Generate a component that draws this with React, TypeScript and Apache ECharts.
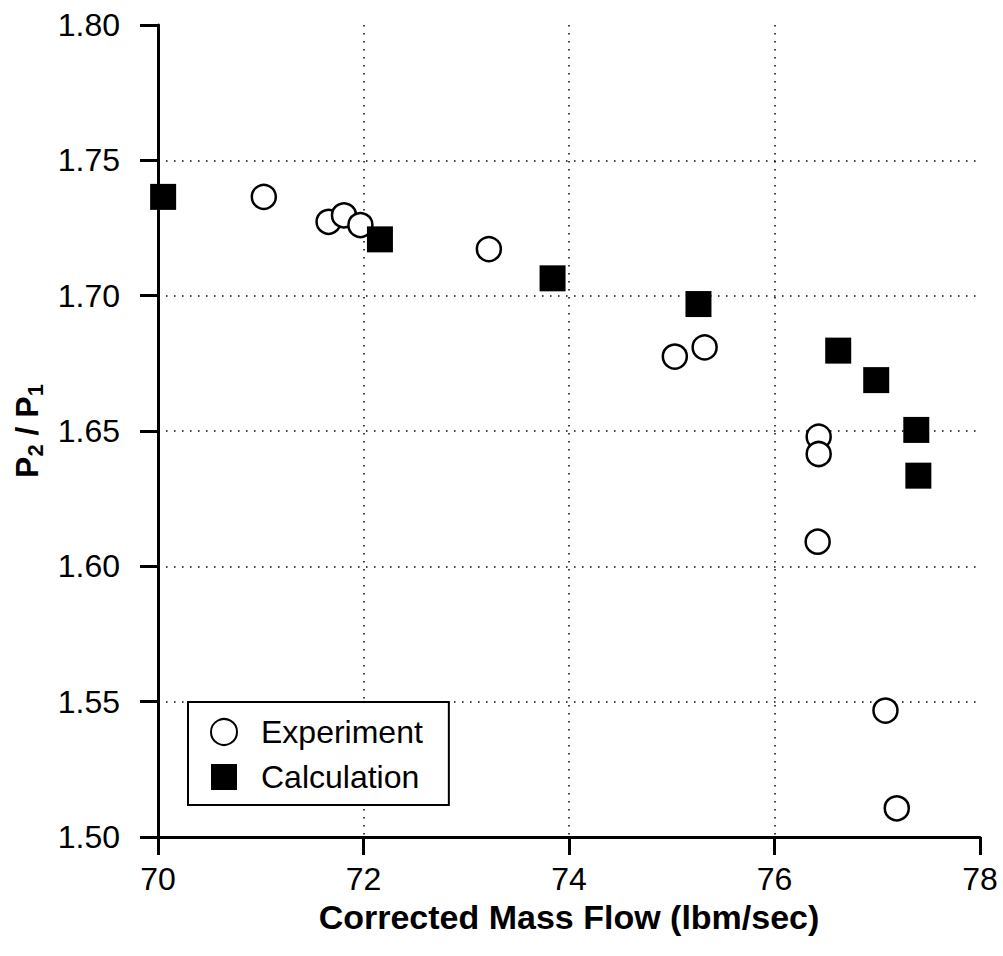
import React, { useEffect, useRef } from "react";
import * as echarts from "echarts";

const xTicks = [70, 72, 74, 76, 78];
const yTicks = [1.5, 1.55, 1.6, 1.65, 1.7, 1.75, 1.8];

const experimentX = [71.03, 71.66, 71.81, 71.97, 73.22, 75.03, 75.32, 76.43, 76.43, 76.42, 77.08, 77.19];
const experimentY = [1.7365, 1.7273, 1.7297, 1.7261, 1.7172, 1.6775, 1.6809, 1.6479, 1.6415, 1.6091, 1.5467, 1.5106];

const calculationX = [70.05, 72.16, 73.84, 75.26, 76.62, 76.99, 77.38, 77.4];
const calculationY = [1.7365, 1.7208, 1.7064, 1.6969, 1.6797, 1.6688, 1.6504, 1.6335];

const FONT = "'Liberation Sans', Arial, Helvetica, sans-serif";

export default function App() {
  const ref = useRef<HTMLDivElement>(null);
  useEffect(() => {
    if (!ref.current) return;
    const chart = echarts.init(ref.current, undefined, { renderer: "svg" });
    const expData = experimentX.map((x, i) => [x, experimentY[i]]);
    const calcData = calculationX.map((x, i) => [x, calculationY[i]]);
    chart.setOption({
      animation: false,
      backgroundColor: "#ffffff",
      textStyle: { fontFamily: FONT },
      grid: { left: 158, right: 23, top: 25, bottom: 119, containLabel: false },
      legend: {
        orient: "vertical",
        left: 188,
        top: 702,
        padding: [14, 26, 12, 22],
        itemGap: 13,
        itemWidth: 26,
        itemHeight: 26,
        backgroundColor: "#ffffff",
        borderColor: "#000000",
        borderWidth: 2,
        textStyle: {
          fontFamily: FONT,
          fontSize: 32,
          lineHeight: 32,
          color: "#000000",
          padding: [0, 0, 0, 19],
        },
        data: ["Experiment", "Calculation"],
      },
      xAxis: {
        type: "value",
        min: xTicks[0],
        max: xTicks[xTicks.length - 1],
        interval: 2,
        name: "Corrected Mass Flow (lbm/sec)",
        nameLocation: "middle",
        nameGap: 57,
        nameTextStyle: { fontFamily: FONT, fontSize: 34, fontWeight: "bold", color: "#000" },
        axisLine: { show: true, lineStyle: { color: "#000", width: 3 } },
        axisTick: { show: true, length: 18, lineStyle: { color: "#000", width: 3 } },
        axisLabel: {
          fontFamily: FONT,
          fontSize: 32,
          color: "#000",
          margin: 26,
          formatter: (v: number) => String(Math.round(v)),
        },
        splitLine: {
          show: true,
          showMinLine: false,
          showMaxLine: false,
          lineStyle: { color: "#000", width: 1.5, type: [1.5, 6.5] },
        },
      },
      yAxis: {
        type: "value",
        min: yTicks[0],
        max: yTicks[yTicks.length - 1],
        interval: 0.05,
        name: "{p|P}{s|2}{p| / P}{s|1}",
        nameLocation: "middle",
        nameGap: 112,
        nameRotate: 90,
        nameTextStyle: {
          fontFamily: FONT,
          color: "#000",
          rich: {
            p: { fontFamily: FONT, fontSize: 32, fontWeight: "bold", color: "#000" },
            s: { fontFamily: FONT, fontSize: 22, fontWeight: "bold", color: "#000", padding: [16, 0, 0, 0] },
          },
        },
        axisLine: { show: true, lineStyle: { color: "#000", width: 3 } },
        axisTick: { show: true, length: 18, lineStyle: { color: "#000", width: 3 } },
        axisLabel: {
          fontFamily: FONT,
          fontSize: 32,
          color: "#000",
          margin: 38,
          formatter: (v: number) => v.toFixed(2),
        },
        splitLine: {
          show: true,
          showMinLine: false,
          showMaxLine: false,
          lineStyle: { color: "#000", width: 1.5, type: [1.5, 6.5] },
        },
      },
      series: [
        {
          name: "Experiment",
          type: "scatter",
          symbol: "circle",
          symbolSize: 24,
          data: expData,
          itemStyle: { color: "#ffffff", borderColor: "#000000", borderWidth: 2.5, opacity: 1 },
          z: 3,
        },
        {
          name: "Calculation",
          type: "scatter",
          symbol: "rect",
          symbolSize: 26,
          data: calcData,
          itemStyle: { color: "#000000", borderColor: "#000000", borderWidth: 0, opacity: 1 },
          z: 4,
        },
      ],
    });
    return () => chart.dispose();
  }, []);
  return (
    <div
      ref={ref}
      style={{ position: "absolute", left: 0, top: 0, width: 1003, height: 956, background: "#fff" }}
    />
  );
}
